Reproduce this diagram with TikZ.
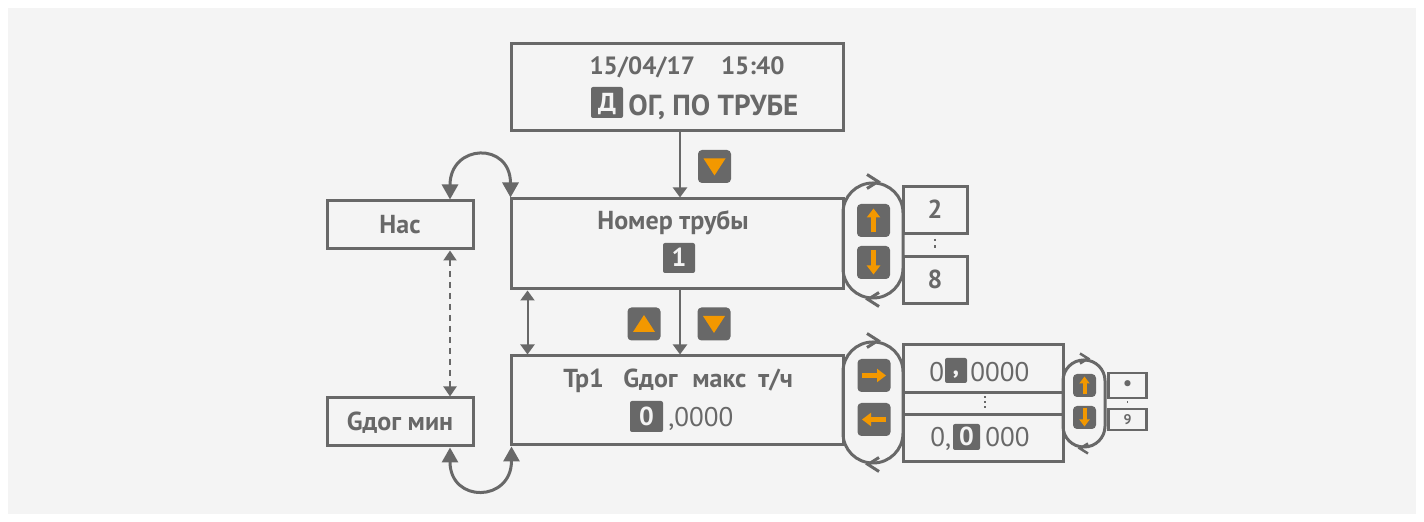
\documentclass[tikz,border=0pt]{standalone}
\usepackage{fontspec}
\setmainfont{PT Sans}
\usetikzlibrary{arrows.meta}
\definecolor{linegray}{HTML}{686868}
\definecolor{keyorange}{HTML}{F39800}
\definecolor{paper}{HTML}{F4F4F4}

\tikzset{
  panel/.style={draw=linegray, line width=1.5pt, inner sep=0pt},
  boxtxt/.style={text=linegray, font=\bfseries\fontsize{13}{15}\selectfont, text height=10.5pt, text depth=1.5pt},
  txt/.style={text=linegray, font=\bfseries\fontsize{13}{15}\selectfont, inner sep=0pt},
  big/.style={txt, font=\bfseries\fontsize{13.5}{16}\selectfont},
  num/.style={txt, font=\fontsize{13.5}{16}\selectfont},
  hl/.style={fill=linegray, text=paper, rounded corners=1pt, inner sep=0pt, text height=9.5pt, text depth=0.5pt, font=\bfseries\fontsize{13}{15}\selectfont},
  key/.style={fill=linegray, rounded corners=2pt, minimum size=16.5pt, inner sep=0pt},
  keysmall/.style={key, minimum size=11.5pt},
  flow/.style={draw=linegray, line width=1pt, -{Triangle[width=7pt,length=5pt]}},
  hop/.style={draw=linegray, line width=1.5pt, {Triangle[width=8pt,length=7.5pt]}-{Triangle[width=8pt,length=7.5pt]}},
  dotlink/.style={draw=linegray, line width=1pt, dash pattern=on 3pt off 2.5pt, {Triangle[width=6.5pt,length=5pt]}-{Triangle[width=6.5pt,length=5pt]}},
  dots/.style={draw=linegray, line width=1pt, dash pattern=on 1pt off 1.5pt, shorten >=2.5pt, shorten <=2.5pt},
  chev/.style={draw=linegray, line width=1.5pt},
  fat/.style={draw=keyorange, line width=2.5pt, -{Triangle[width=6.5pt,length=4.5pt]}},
  thin/.style={draw=keyorange, line width=2pt, -{Triangle[width=5pt,length=3.5pt]}}
}

\begin{document}
\begin{tikzpicture}[x=0.5pt, y=-0.5pt]
\useasboundingbox (0,0) rectangle (1424,522);
\fill[paper] (8,8) rectangle (1416,514);

% screens
\node[panel, minimum width=166pt, minimum height=43.5pt] (top) at (677,87.5) {};
\node[panel, minimum width=166pt, minimum height=45pt] (pipe) at (677,244) {};
\node[panel, minimum width=166pt, minimum height=44.5pt] (rate) at (677,400.5) {};
\node[panel, boxtxt, minimum width=73pt, minimum height=24pt] (nas) at (400,225) {Нас};
\node[panel, boxtxt, minimum width=73pt, minimum height=24pt] (gmin) at (400,422) {Gдог мин};

% side selectors
\node[panel, rounded corners=14.9pt, minimum width=30pt, minimum height=57.5pt] (spinA) at (873,240.5) {};
\node[panel, rounded corners=14.9pt, minimum width=30pt, minimum height=60.5pt] (spinB) at (873,402.5) {};
\node[panel, rounded corners=10.4pt, minimum width=21pt, minimum height=43.5pt] (spinC) at (1084,403.5) {};

\node[panel, boxtxt, minimum width=32pt, minimum height=23.5pt] (two) at (935,210) {2};
\node[panel, boxtxt, minimum width=32pt, minimum height=23.5pt] (eight) at (935,280) {8};

\node[panel, minimum width=80pt, minimum height=24pt] (val1) at (983,369) {};
\node[panel, minimum width=80pt, minimum height=11pt] (gap) at (983,404) {};
\node[panel, minimum width=80pt, minimum height=23.5pt] (val2) at (983,438.5) {};

\node[panel, line width=1.25pt, text=linegray, font=\fontsize{11}{12}\selectfont, minimum width=19pt, minimum height=12.5pt] (pt) at (1127.5,385.5) {\textbullet};
\node[panel, line width=1.25pt, text=linegray, font=\bfseries\fontsize{7}{8}\selectfont, minimum width=19pt, minimum height=10.5pt] (nine) at (1127.5,419.5) {9};

% texts
\node[big, font=\bfseries\fontsize{12.5}{15}\selectfont, anchor=base] (date) at (687,75) {15/04/17\hspace{13pt}15:40};
\node[hl, minimum width=16pt, minimum height=15.5pt] (dbox) at (607,102.5) {Д};
\node[big, font=\bfseries\fontsize{14.5}{17}\selectfont, anchor=base west] (dtext) at (628,116) {ОГ, ПО ТРУБЕ};
\node[txt, anchor=base] (pipetxt) at (673,230) {Номер трубы};
\node[hl, minimum width=16pt, minimum height=15pt] (pipeno) at (679,258) {1};

\node[txt, anchor=base west] (rtr) at (563,388) {Тр1};
\node[txt, anchor=base west] (rg) at (623,388) {Gдог};
\node[txt, anchor=base west] (rm) at (692,388) {макс};
\node[txt, anchor=base west] (ru) at (758,388) {т/ч};
\node[hl, minimum width=16.5pt, minimum height=15.5pt] (rdig) at (646.5,416.5) {0};
\node[num, anchor=base west] (rrest) at (668,427) {,0000};

\node[num, anchor=base west] (v1a) at (929,382) {0};
\node[hl, minimum width=11pt, minimum height=12.5pt, text height=7pt, text depth=3pt] (v1b) at (956,370.5) {,};
\node[num, anchor=base west] (v1c) at (970,382) {0000};
\node[num, anchor=base west] (v2a) at (930,447) {0,};
\node[hl, minimum width=13.5pt, minimum height=13pt] (v2b) at (966.5,437) {0};
\node[num, anchor=base west] (v2c) at (985,447) {000};

% keys
\node[key] (kdown) at (714.5,166.5) {};
\fill[keyorange, shift={(kdown.center)}] (-11,-8) -- (11,-8) -- (0,9) -- cycle;
\node[key] (kup2) at (644,324) {};
\fill[keyorange, shift={(kup2.center)}] (-11,8) -- (11,8) -- (0,-9) -- cycle;
\node[key] (kdown2) at (714,324) {};
\fill[keyorange, shift={(kdown2.center)}] (-11,-8) -- (11,-8) -- (0,9) -- cycle;

\node[key] (kplus) at (873.5,220.5) {};
\draw[fat, shift={(kplus.center)}] (0,12) -- (0,-12);
\node[key] (kminus) at (873.5,262.5) {};
\draw[fat, shift={(kminus.center)}] (0,-12) -- (0,12);
\node[key] (kright) at (874,375.5) {};
\draw[fat, shift={(kright.center)}] (-12,0) -- (12,0);
\node[key] (kleft) at (874,419.5) {};
\draw[fat, shift={(kleft.center)}] (12,0) -- (-12,0);
\node[keysmall] (kinc) at (1084.5,385.5) {};
\draw[thin, shift={(kinc.center)}] (0,9) -- (0,-9);
\node[keysmall] (kdec) at (1084.5,417.5) {};
\draw[thin, shift={(kdec.center)}] (0,-9) -- (0,9);

% turn marks
\draw[chev, shift={(spinA.north)}] (-6,-7) -- (5,0) -- (-6,7);
\draw[chev, shift={(spinA.south)}] (6,-7) -- (-5,0) -- (6,7);
\draw[chev, shift={(spinB.north)}] (-6,-7) -- (5,0) -- (-6,7);
\draw[chev, shift={(spinB.south)}] (6,-7) -- (-5,0) -- (6,7);
\draw[chev, line width=1.25pt, shift={(spinC.north)}] (-4,-5) -- (4,0) -- (-4,5);
\draw[chev, line width=1.25pt, shift={(spinC.south)}] (4,-5) -- (-4,0) -- (4,5);

% connectors
\draw[flow] ([xshift=1.5pt]top.south) -- ([xshift=1.5pt]pipe.north);
\draw[flow] ([xshift=1.5pt]pipe.south) -- ([xshift=1.5pt]rate.north);
\draw[flow, {Triangle[width=7pt,length=5pt]}-{Triangle[width=7pt,length=5pt]}] ([xshift=9pt]pipe.south west) -- ([xshift=9pt]rate.north west);
\draw[hop] ([xshift=25pt]nas.north) .. controls +(0,-56) and +(0,-56) .. ([xshift=0.5pt]pipe.north west);
\draw[hop] ([xshift=25pt]gmin.south) .. controls +(0,56) and +(0,56) .. ([xshift=1pt]rate.south west);
\draw[dotlink] ([xshift=25pt]nas.south) -- ([xshift=25pt]gmin.north);

\draw[dots, line width=1.2pt, dash pattern=on 1.2pt off 2pt, shorten >=2pt, shorten <=2pt] (two.south) -- (eight.north);
\draw[dots] ([xshift=1pt]gap.north) -- ([xshift=1pt]gap.south);
\draw[dots, line width=0.6pt, shorten >=1pt, shorten <=1pt] (pt.south) -- (nine.north);
\end{tikzpicture}
\end{document}
